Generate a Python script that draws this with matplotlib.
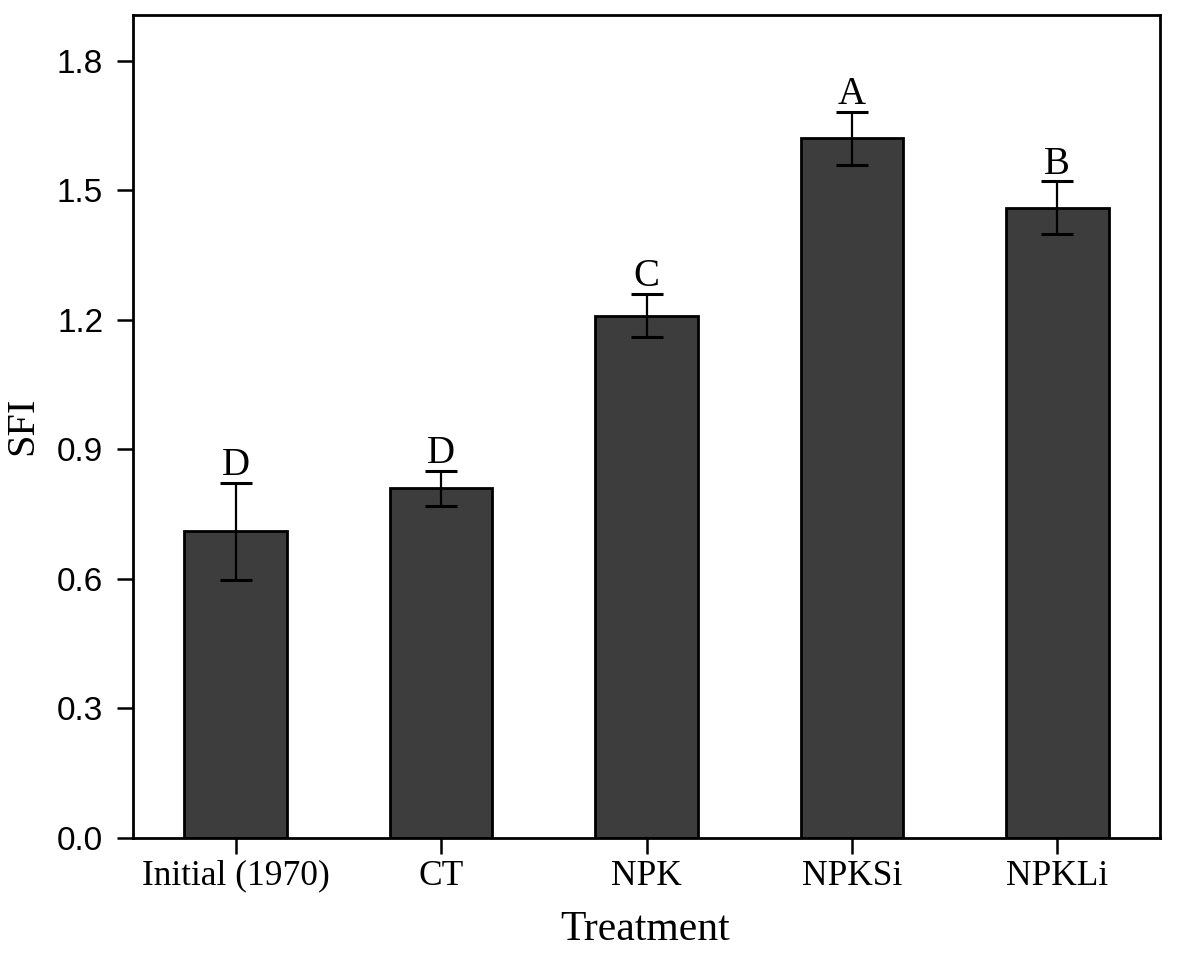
import numpy as np
import matplotlib
matplotlib.use("Agg")
import matplotlib.pyplot as plt

treatments = ["Initial (1970)", "CT", "NPK", "NPKSi", "NPKLi"]
sfi = [0.71, 0.81, 1.21, 1.62, 1.46]
sfi_err = [0.112, 0.04, 0.05, 0.062, 0.061]
letters = ["D", "D", "C", "A", "B"]

serif = "Liberation Serif"
sans = "Liberation Sans"

fig = plt.figure(figsize=(11.81, 9.6), dpi=100)
ax = fig.add_axes([133 / 1181, 1 - 838 / 960, 1027 / 1181, 823 / 960])

x = np.arange(len(treatments))
ax.bar(x, sfi, width=0.5, color="#3d3d3d", edgecolor="black", linewidth=2, zorder=2)
ax.errorbar(x, sfi, yerr=sfi_err, fmt="none", ecolor="black", elinewidth=1.6,
            capsize=11.5, capthick=2.2, zorder=3)

for xi, v, e, lab in zip(x, sfi, sfi_err, letters):
    ax.annotate(lab, (xi, v + e), xytext=(0, 5.5), textcoords="offset points",
                ha="center", va="baseline", fontsize=28, family=serif)

ax.set_xlim(-0.5, 4.5)
ax.set_ylim(0, 1.906)
ax.set_yticks([0.0, 0.3, 0.6, 0.9, 1.2, 1.5, 1.8])
ax.set_yticklabels(["0.0", "0.3", "0.6", "0.9", "1.2", "1.5", "1.8"], family=sans, fontsize=24)
ax.set_xticks(x)
ax.set_xticklabels(treatments, family=serif, fontsize=25.5)

ax.tick_params(axis="both", direction="out", length=11.5, width=1.8)
ax.tick_params(axis="y", pad=10)
ax.tick_params(axis="x", pad=4)
for sp in ax.spines.values():
    sp.set_linewidth(2)

ax.set_xlabel("Treatment", family=serif, fontsize=30, va="top")
ax.xaxis.set_label_coords((645 - 133) / 1027, (838 - 910) / 823)
ax.set_ylabel("SFI", family=serif, fontsize=29, va="center")
ax.yaxis.set_label_coords((23 - 133) / 1027, (838 - 426) / 823)

fig.savefig("out.png", dpi=100)
